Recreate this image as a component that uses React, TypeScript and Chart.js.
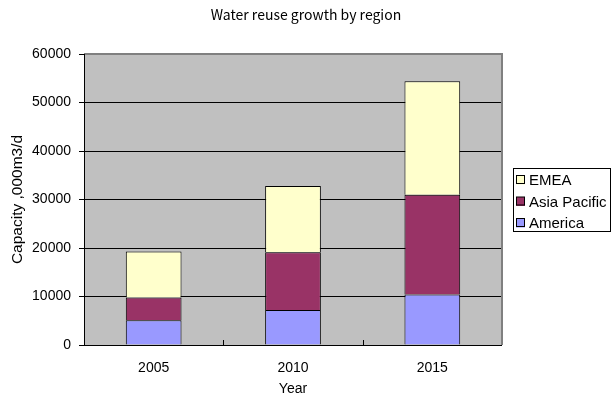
import React, { useEffect, useRef } from "react";
import { Chart, registerables } from "chart.js";

Chart.register(...registerables);

const categories = ["2005", "2010", "2015"];
const americaValues = [5100, 7200, 10400];
const asiaPacificValues = [4700, 11900, 20600];
const emeaValues = [9500, 13700, 23400];
const yTicks = [0, 10000, 20000, 30000, 40000, 50000, 60000];

const chartTitle = "Water reuse growth by region";
const yTitle = "Capacity ,000m3/d";
const xTitle = "Year";

const FONT = "'Liberation Sans', Arial, sans-serif";
const TITLE_FONT = "'Noto Sans CJK JP', 'Liberation Sans', sans-serif";

const decorPlugin = {
  id: "decor",
  beforeDraw(chart: any) {
    const { ctx, chartArea } = chart;
    ctx.save();
    ctx.fillStyle = "#FFFFFF";
    ctx.fillRect(0, 0, chart.width, chart.height);
    ctx.fillStyle = "#C0C0C0";
    ctx.fillRect(chartArea.left, chartArea.top, chartArea.right - chartArea.left, chartArea.bottom - chartArea.top);
    ctx.restore();
  },
  afterDraw(chart: any) {
    const { ctx, chartArea } = chart;
    const { left, right, top, bottom } = chartArea;
    ctx.save();
    // plot border
    ctx.strokeStyle = "#808080";
    ctx.lineWidth = 2;
    ctx.beginPath();
    ctx.moveTo(left, top);
    ctx.lineTo(right, top);
    ctx.lineTo(right, bottom);
    ctx.stroke();
    ctx.strokeStyle = "#000000";
    ctx.lineWidth = 1;
    ctx.beginPath();
    ctx.moveTo(left + 0.5, top);
    ctx.lineTo(left + 0.5, bottom + 0.5);
    ctx.lineTo(right, bottom + 0.5);
    ctx.stroke();
    // inner x ticks between categories (pointing up into the plot)
    const xs = chart.scales.x;
    const n = categories.length;
    for (let i = 0; i < n - 1; i++) {
      const p = (xs.getPixelForValue(i) + xs.getPixelForValue(i + 1)) / 2;
      ctx.beginPath();
      ctx.moveTo(Math.round(p) + 0.5, bottom);
      ctx.lineTo(Math.round(p) + 0.5, bottom - 5);
      ctx.stroke();
    }
    // title
    ctx.fillStyle = "#000000";
    ctx.font = "14px " + TITLE_FONT;
    ctx.textAlign = "center";
    ctx.textBaseline = "middle";
    ctx.fillText(chartTitle, chart.width / 2, 15);
    // legend
    const lx = 513, ly = 168, lw = 97, lh = 63;
    ctx.strokeStyle = "#000000";
    ctx.lineWidth = 1;
    ctx.strokeRect(lx + 0.5, ly + 0.5, lw, lh);
    const ds = chart.data.datasets.slice().reverse();
    ctx.font = "15px " + FONT;
    ctx.textAlign = "left";
    ds.forEach((d: any, i: number) => {
      const cy = ly + 12 + i * 21.5;
      ctx.fillStyle = d.backgroundColor;
      ctx.fillRect(516, cy - 4.5, 9, 9);
      ctx.strokeStyle = "#000000";
      ctx.strokeRect(516.5, cy - 4.5, 8, 8);
      ctx.fillStyle = "#000000";
      ctx.fillText(d.label, 529, cy + 1);
    });
    ctx.restore();
  },
};

export default function App() {
  const ref = useRef<HTMLCanvasElement | null>(null);
  useEffect(() => {
    document.body.style.margin = "0";
    const canvas = ref.current!;
    const chart = new Chart(canvas, {
      type: "bar",
      data: {
        labels: categories,
        datasets: [
          { label: "America", data: americaValues, backgroundColor: "#9999FF", borderColor: "#000000", borderWidth: 1 },
          { label: "Asia Pacific", data: asiaPacificValues, backgroundColor: "#993366", borderColor: "#000000", borderWidth: 1 },
          { label: "EMEA", data: emeaValues, backgroundColor: "#FFFFCC", borderColor: "#000000", borderWidth: 1 },
        ],
      },
      options: {
        responsive: false,
        animation: false,
        layout: { padding: { top: 54, right: 110, left: 0, bottom: 0 } },
        datasets: { bar: { barPercentage: 0.4, categoryPercentage: 1 } },
        plugins: { legend: { display: false }, title: { display: false }, tooltip: { enabled: false } },
        scales: {
          x: {
            stacked: true,
            grid: { display: false },
            border: { display: false },
            ticks: { color: "#000", font: { family: FONT, size: 14 }, padding: 7, maxRotation: 0 },
            title: { display: true, text: xTitle, color: "#000", font: { family: FONT, size: 14 }, padding: { top: 0, bottom: 0 } },
            afterFit: (s: any) => { s.height = 53; },
          },
          y: {
            stacked: true,
            min: 0,
            max: 60000,
            afterBuildTicks: (s: any) => { s.ticks = yTicks.map((v) => ({ value: v })); },
            grid: { color: "#000000", lineWidth: 1, tickLength: 5, drawTicks: true },
            border: { display: false },
            ticks: { color: "#000", font: { family: FONT, size: 14 }, padding: 8, callback: (v: any) => String(v) },
            title: { display: true, text: yTitle, color: "#000", font: { family: FONT, size: 15.5 }, padding: { top: 8, bottom: 0 } },
            afterFit: (s: any) => { s.width = 84; },
          },
        },
      },
      plugins: [decorPlugin],
    });
    return () => chart.destroy();
  }, []);
  return <canvas ref={ref} width={612} height={398} style={{ display: "block" }} />;
}
